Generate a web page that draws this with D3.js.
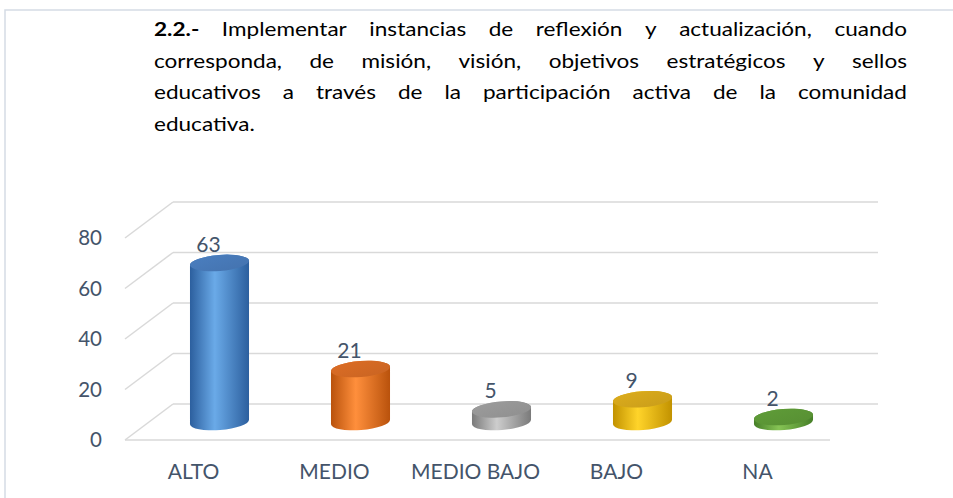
<!DOCTYPE html>
<html>
<head>
<meta charset="utf-8">
<script src="https://cdn.jsdelivr.net/npm/d3@7"></script>
<style>
  html, body { margin: 0; padding: 0; background: #fff; }
  svg { display: block; }
</style>
</head>
<body>
<svg id="chart" width="953" height="498"></svg>
<script>
// ---- data ----
const categories = ["ALTO", "MEDIO", "MEDIO BAJO", "BAJO", "NA"];
const values = [63, 21, 5, 9, 2];
const yTicks = [0, 20, 40, 60, 80];
const titleBold = "2.2.-";
const titleLines = [
  "2.2.- Implementar instancias de reflexión y actualización, cuando",
  "corresponda, de misión, visión, objetivos estratégicos y sellos",
  "educativos a través de la participación activa de la comunidad",
  "educativa."
];

// ---- styles ----
const palette = [
  { dark: "#2c5f9e", light: "#6aaae8", top: "#4a7ebf" },
  { dark: "#b9520c", light: "#ff8f3c", top: "#dc6d25" },
  { dark: "#7a7a7a", light: "#cdcdcd", top: "#9c9c9c" },
  { dark: "#c29200", light: "#ffd42a", top: "#dcac1c" },
  { dark: "#467f28", light: "#86c455", top: "#5f9c38" }
];
const labelColor = "#44546a";
const gridColor = "#d9d9d9";
const font = "Lato, 'Open Sans', sans-serif";

const svg = d3.select("#chart");

// outer frame (top and left edges)
svg.append("path")
  .attr("d", "M5,498 L5,10 L953,10")
  .attr("fill", "none")
  .attr("stroke", "#d5dce5")
  .attr("stroke-width", 1.5);

// ---- justified title (glyphs widened horizontally) ----
const titleLeft = 154, titleRight = 907, titleTop = 36, titleStep = 31.5;
const titleSize = 18.5, titleStretch = 1.22;
const tg = svg.append("g").attr("font-family", font).attr("font-size", titleSize).attr("fill", "#000");
titleLines.forEach((line, i) => {
  const words = line.split(" ");
  const y = titleTop + i * titleStep;
  const nodes = words.map(w => tg.append("text")
    .attr("font-weight", (i === 0 && w === titleBold) ? "bold" : "normal")
    .text(w));
  const widths = nodes.map(n => n.node().getComputedTextLength() * titleStretch);
  const total = d3.sum(widths);
  const last = i === titleLines.length - 1;
  const gap = last ? titleSize * 0.3 : (titleRight - titleLeft - total) / (words.length - 1);
  let xPos = titleLeft;
  nodes.forEach((n, k) => {
    n.attr("transform", `translate(${xPos},${y}) scale(${titleStretch},1)`);
    xPos += widths[k] + gap;
  });
});

// ---- 3D frame geometry ----
const depth = { dx: 48, dy: -36 };          // front-to-back offset of the floor
const x = d3.scaleBand().domain(categories).range([125, 830]).padding(0);
const y = d3.scaleLinear().domain([0, 80]).range([440, 238]);   // front plane

const grid = svg.append("g").attr("stroke", gridColor).attr("stroke-width", 1.5).attr("fill", "none");
// back wall horizontal lines + left wall diagonals
yTicks.forEach(t => {
  grid.append("line")
    .attr("x1", x.range()[0] + depth.dx).attr("x2", x.range()[1] + depth.dx)
    .attr("y1", y(t) + depth.dy).attr("y2", y(t) + depth.dy);
  grid.append("line")
    .attr("x1", x.range()[0]).attr("y1", y(t))
    .attr("x2", x.range()[0] + depth.dx).attr("y2", y(t) + depth.dy);
});
// front edge of the floor
grid.append("line")
  .attr("x1", x.range()[0]).attr("x2", x.range()[1])
  .attr("y1", y(0)).attr("y2", y(0));

// y-axis tick labels
svg.append("g")
  .attr("font-family", font).attr("font-size", 20.5).attr("fill", labelColor)
  .attr("text-anchor", "end")
  .selectAll("text").data(yTicks).join("text")
  .attr("x", 102).attr("y", d => y(d)).attr("dy", "0.36em")
  .text(d => d);

// category labels
svg.append("g")
  .attr("font-family", font).attr("font-size", 21).attr("fill", labelColor)
  .attr("text-anchor", "middle")
  .selectAll("text").data(categories).join("text")
  .attr("x", d => x(d) + x.bandwidth() / 2 - 2).attr("y", 479)
  .text(d => d);

// ---- cylinders ----
const defs = svg.append("defs");
palette.forEach((p, i) => {
  const g = defs.append("linearGradient").attr("id", "body" + i)
    .attr("x1", "0").attr("x2", "1").attr("y1", "0").attr("y2", "0");
  g.append("stop").attr("offset", "0").attr("stop-color", p.dark);
  g.append("stop").attr("offset", "0.42").attr("stop-color", p.light);
  g.append("stop").attr("offset", "1").attr("stop-color", p.dark);
  const t = defs.append("linearGradient").attr("id", "top" + i)
    .attr("x1", "0").attr("x2", "1").attr("y1", "0").attr("y2", "1");
  t.append("stop").attr("offset", "0").attr("stop-color", p.top);
  t.append("stop").attr("offset", "1").attr("stop-color", d3.color(p.top).darker(0.25));
});

const rx = x.bandwidth() * 0.21, ry = 8, tilt = -4.5;
const a = tilt * Math.PI / 180;
const bars = svg.append("g");
categories.forEach((c, i) => {
  const v = values[i];
  const cx = x(c) + x.bandwidth() / 2 + depth.dx / 2;
  const cyTop = y(v) + depth.dy / 2;
  const cyBot = y(0) + depth.dy / 2;
  const ox = rx * Math.cos(a), oy = rx * Math.sin(a);
  const d = `M${cx - ox},${cyTop - oy} L${cx - ox},${cyBot - oy}` +
            ` A${rx},${ry} ${tilt} 0 0 ${cx + ox},${cyBot + oy}` +
            ` L${cx + ox},${cyTop + oy}` +
            ` A${rx},${ry} ${tilt} 0 0 ${cx - ox},${cyTop - oy} Z`;
  bars.append("path").attr("d", d).attr("fill", `url(#body${i})`);
  bars.append("ellipse")
    .attr("cx", cx).attr("cy", cyTop).attr("rx", rx).attr("ry", ry)
    .attr("transform", `rotate(${tilt},${cx},${cyTop})`)
    .attr("fill", `url(#top${i})`);
  bars.append("text")
    .attr("x", cx - 11).attr("y", cyTop - 11)
    .attr("text-anchor", "middle")
    .attr("font-family", font).attr("font-size", 21).attr("fill", labelColor)
    .text(v);
});
</script>
</body>
</html>
